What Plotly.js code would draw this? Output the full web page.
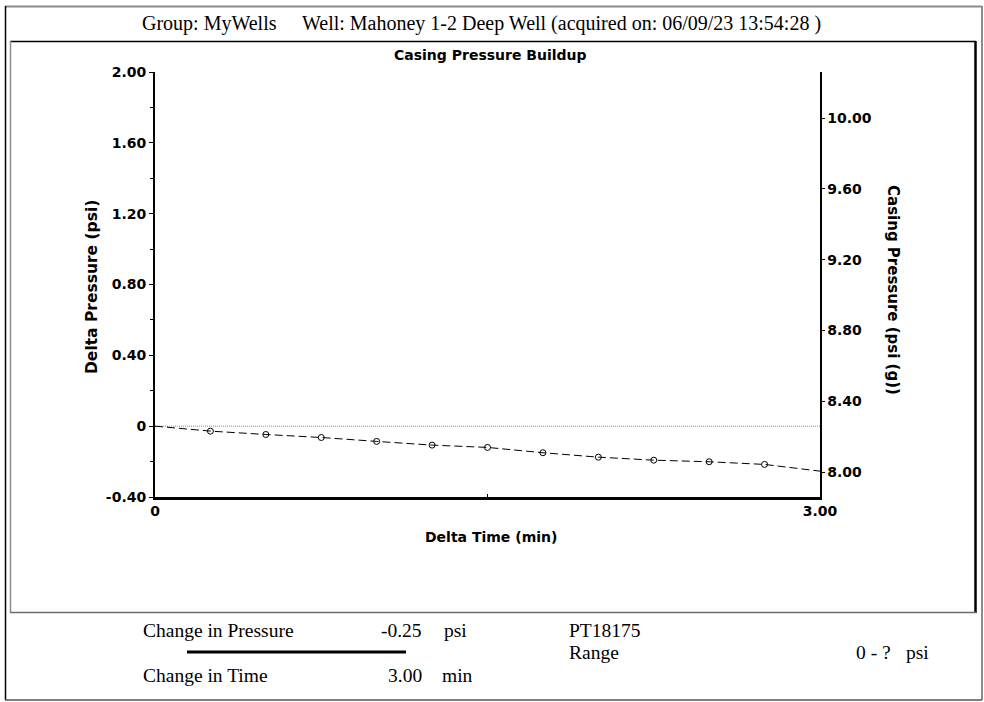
<!DOCTYPE html>
<html><head><meta charset="utf-8">
<script src="https://cdn.plot.ly/plotly-3.0.1.min.js"></script>
<style>html,body{margin:0;padding:0;background:#fff}</style>
</head><body><div id="chart" style="width:984px;height:702px"></div>
<script>
// ---- data ----
const deltaTime = [0, 0.25, 0.5, 0.75, 1.0, 1.25, 1.5, 1.75, 2.0, 2.25, 2.5, 2.75, 3.0];
const deltaPressure = [0, -0.028, -0.047, -0.064, -0.086, -0.107, -0.120, -0.150, -0.175, -0.192, -0.201, -0.216, -0.254];
const initialCasingPressure = 8.26;
const baselinePressure = [0, 0];
const leftRange = [-0.4, 2.0];
const leftTickVals = [-0.4, 0, 0.4, 0.8, 1.2, 1.6, 2.0];
const leftTickText = ['-0.40', '0', '0.40', '0.80', '1.20', '1.60', '2.00'];
const rightTickVals = [8.0, 8.4, 8.8, 9.2, 9.6, 10.0];
const rightTickText = ['8.00', '8.40', '8.80', '9.20', '9.60', '10.00'];
const xTickVals = [0, 1.5, 3];
const xTickText = ['0', '', '3.00'];
const headerGroup = 'Group: MyWells';
const headerWell = 'Well: Mahoney 1-2 Deep Well (acquired on: 06/09/23 13:54:28 )';
const chartTitle = 'Casing Pressure Buildup';
const xTitle = 'Delta Time (min)';
const yTitle = 'Delta Pressure (psi)';
const y2Title = 'Casing Pressure (psi (g))';
const changePressureLabel = 'Change in Pressure';
const changePressureValue = '-0.25';
const changePressureUnit = 'psi';
const changeTimeLabel = 'Change in Time';
const changeTimeValue = '3.00';
const changeTimeUnit = 'min';
const gaugeName = 'PT18175';
const rangeLabel = 'Range';
const rangeValue = '0 - ?';
const rangeUnit = 'psi';

// ---- layout helpers ----
const L = 155, R = 820, T = 72, B = 497;
const px = p => (p - L) / (R - L);
const py = p => (B - p) / (B - T);
const SANS = 'DejaVu Sans, Liberation Sans, Arial, sans-serif';
const SERIF = 'Liberation Serif, Times New Roman, serif';
const SERIF_SIZE = 19.5;

const casingPressure = deltaPressure.map(d => d + initialCasingPressure);
const rightRange = leftRange.map(v => v + initialCasingPressure);

const traces = [
  { x: [deltaTime[0], deltaTime[deltaTime.length - 1]], y: baselinePressure, mode: 'lines',
    line: { color: '#8a8a8a', width: 1, dash: '1px,1px' }, hoverinfo: 'skip', showlegend: false },
  { x: deltaTime, y: deltaPressure, mode: 'lines',
    line: { color: '#000', width: 1, dash: '8px,4px' }, showlegend: false },
  { x: deltaTime.slice(1, -1), y: deltaPressure.slice(1, -1), mode: 'markers',
    marker: { symbol: 'circle-open', size: 6, color: '#000', line: { width: 1, color: '#000' } }, showlegend: false },
  { x: deltaTime, y: casingPressure, yaxis: 'y2', mode: 'lines', opacity: 0,
    line: { width: 0 }, hoverinfo: 'skip', showlegend: false }
];

function ann(text, x, y, opts) {
  return Object.assign({ text: text, x: px(x), y: py(y), xref: 'paper', yref: 'paper',
    showarrow: false, xanchor: 'left', yanchor: 'middle',
    font: { family: SERIF, size: SERIF_SIZE, color: '#000' } }, opts || {});
}
const boldSans = (s) => ({ family: SANS, size: s, color: '#000', weight: 'bold' });
const headerFont = { family: SERIF, size: 20, color: '#000' };

const annotations = [
  ann(headerGroup, 140, 23, { font: headerFont }),
  ann(headerWell, 300, 23, { font: headerFont }),
  ann(chartTitle, 490, 55, { xanchor: 'center', font: boldSans(14) }),
  ann(xTitle, 491, 537, { xanchor: 'center', font: boldSans(14) }),
  ann(yTitle, 92, 287, { xanchor: 'center', textangle: -90, font: boldSans(15.5) }),
  ann(y2Title, 893, 290, { xanchor: 'center', textangle: 90, font: boldSans(15) }),
  ann(changePressureLabel, 141, 630),
  ann(changePressureValue, 424, 630, { xanchor: 'right' }),
  ann(changePressureUnit, 442, 630),
  ann(changeTimeLabel, 141, 675),
  ann(changeTimeValue, 424, 675, { xanchor: 'right' }),
  ann(changeTimeUnit, 440, 675),
  ann(gaugeName, 567, 630),
  ann(rangeLabel, 567, 652),
  ann(rangeValue, 893, 652, { xanchor: 'right' }),
  ann(rangeUnit, 904, 652)
];

function hline(x0, x1, y, color, w) {
  return { type: 'line', xref: 'paper', yref: 'paper', x0: px(x0), x1: px(x1), y0: py(y), y1: py(y),
    line: { color: color, width: w } };
}
function vline(x, y0, y1, color, w) {
  return { type: 'line', xref: 'paper', yref: 'paper', x0: px(x), x1: px(x), y0: py(y0), y1: py(y1),
    line: { color: color, width: w } };
}
const shapes = [
  // outer frame
  hline(5.5, 982, 6.5, '#8c8c8c', 2),
  vline(5.5, 6, 700, '#000', 1.5),
  vline(982, 6, 700, '#8c8c8c', 2),
  hline(5, 982, 700, '#555', 1.5),
  // inner chart frame
  hline(10, 976, 41.5, '#000', 1.5),
  vline(10.5, 41, 612.5, '#8c8c8c', 1.5),
  vline(975.5, 41, 613, '#000', 2.5),
  hline(10, 976, 612.5, '#6e6e6e', 1.5),
  // ratio bar
  hline(187, 406, 652, '#000', 3)
];

const layout = {
  width: 984, height: 702,
  margin: { l: L, r: 984 - R, t: T, b: 702 - B, pad: 0 },
  paper_bgcolor: '#fff', plot_bgcolor: '#fff',
  showlegend: false,
  xaxis: {
    range: [deltaTime[0], deltaTime[deltaTime.length - 1]],
    tickmode: 'array', tickvals: xTickVals, ticktext: xTickText,
    ticks: 'inside', ticklen: 3, tickcolor: '#000', tickwidth: 1,
    showgrid: false, zeroline: false, showline: true, linecolor: '#000', linewidth: 2.5,
    tickfont: boldSans(14), ticklabelstandoff: 0
  },
  yaxis: {
    range: leftRange,
    tickmode: 'array', tickvals: leftTickVals, ticktext: leftTickText,
    ticks: 'outside', ticklen: 4, tickcolor: '#000', tickwidth: 1,
    minor: { tickmode: 'linear', tick0: 0, dtick: 0.2, ticks: 'outside', ticklen: 3, tickcolor: '#000', tickwidth: 1 },
    showgrid: false, zeroline: false, showline: true, linecolor: '#000', linewidth: 2,
    tickfont: boldSans(14)
  },
  yaxis2: {
    overlaying: 'y', side: 'right', range: rightRange,
    tickmode: 'array', tickvals: rightTickVals, ticktext: rightTickText,
    ticks: 'outside', ticklen: 3, tickcolor: '#000', tickwidth: 1,
    showgrid: false, zeroline: false, showline: true, linecolor: '#000', linewidth: 1.5,
    tickfont: boldSans(14)
  },
  annotations: annotations,
  shapes: shapes
};

Plotly.newPlot('chart', traces, layout, { displayModeBar: false, staticPlot: true });
</script></body></html>
